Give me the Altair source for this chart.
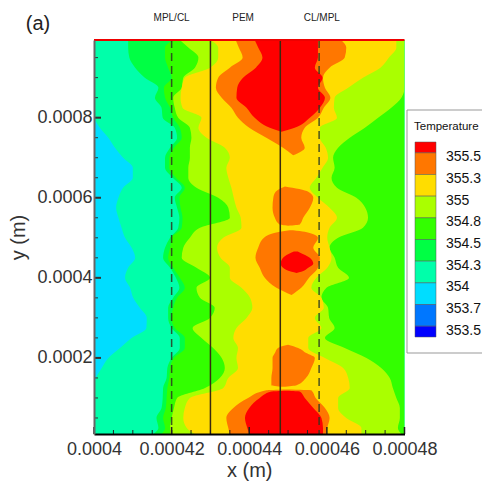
import altair as alt
import pandas as pd

UM = 1e-6
XDOM = [400 * UM, 480 * UM]
YDOM = [10 * UM, 994 * UM]

LEVEL_LABELS = ["355.5", "355.3", "355", "354.8", "354.5", "354.3", "354", "353.7", "353.5"]
LEVEL_VALUES = [355.5, 355.25, 355.0, 354.75, 354.5, 354.25, 354.0, 353.75, 353.5]
BAND_NAMES = ["red", "orange", "yellow", "yg", "lime", "green", "teal", "cyan", "blue", "navy"]
BAND_TOP = [355.625, 355.5, 355.25, 355.0, 354.75, 354.5, 354.25, 354.0, 353.75, 353.5]
BAND_BOT = [355.5, 355.25, 355.0, 354.75, 354.5, 354.25, 354.0, 353.75, 353.5, 353.375]
BAND_COLORS = ["#ff0000", "#ff7700", "#ffdd00", "#aaff00", "#33ff00", "#00ff44", "#00ffaa", "#00ddff", "#0077ff", "#0000ff"]

Y_ROWS = [994, 975, 950, 925, 900, 875, 850, 825, 800, 775, 750, 725, 700, 675, 650, 625, 600, 575, 550, 525,
          500, 475, 450, 425, 400, 375, 350, 325, 300, 275, 250, 225, 200, 175, 150, 125, 100, 75, 50, 25, 10]

CYAN_Y = [800, 775, 750, 725, 700, 675, 650, 625, 600, 575, 550, 525, 500, 475, 450, 425, 400, 375, 350, 325,
          300, 275, 250, 225, 200, 175, 150, 125]
CYAN_R = [400, 401.5, 403.7, 405.4, 407.5, 410, 410, 407.5, 406.3, 405.7, 406.3, 407.1, 408, 409.7, 410.6, 408.8,
          408, 409.3, 410.1, 411.8, 413.6, 413.5, 409.7, 406.7, 403.7, 402, 400.5, 400]
GREEN_L = [408.8, 408.8, 409.1, 410.6, 413.1, 416.6, 415.7, 417.4, 417.7, 420.8, 421.4, 419.6, 418.3, 418.3, 420.3,
           422.6, 420.8, 421.4, 422, 421.7, 419.6, 418.3, 417.8, 419.6, 421.1, 422, 420.4, 419.1, 419.1, 420,
           422.1, 422.1, 420, 418.9, 418.7, 417.8, 417.7, 417.4, 416.1, 416.6, 415.3]
LIME_L = [420.4, 418.3, 418.3, 419.1, 420, 418, 418.3, 419.6, 420.4, 422.1, 422.6, 420.6, 419.4, 419.4, 421.1,
          423.4, 422, 422.3, 422.8, 422.6, 420, 419.6, 419.1, 420.4, 422.1, 423.4, 421.4, 420.4, 420, 420.8,
          423.4, 423.4, 420.6, 419.6, 419.4, 418.9, 418.7, 418.5, 417.8, 418.3, 417.4]
YG_L = [422.1, 424.3, 426.9, 426, 423, 422.6, 420.4, 420.8, 421.7, 424.7, 425.1, 424.7, 424.7, 424.3, 424.3,
        426.4, 432, 434.6, 435, 427.3, 424.7, 423, 422.6, 426.4, 429.9, 426.4, 427.3, 431.1, 429.9, 425.4,
        427.7, 430.7, 432.9, 433.7, 432.4, 428.6, 421.4, 420.6, 420, 419.6, 419.6]
YG_R = [480, 480, 480, 480, 480, 480, 479.2, 476.6, 473.2, 469.8, 465.9, 462.9, 461.6, 462, 461.2,
        462.6, 467.6, 469.9, 470.6, 469.3, 462.9, 460.7, 462, 462.9, 465.7, 459.9, 458.6, 460.3, 460.6, 462,
        459.5, 464.6, 470.2, 474, 476.2, 477, 477.9, 478.8, 478.8, 478.3, 479.2]
YEL_L = [430, 432, 432, 429.9, 423.4, 422.6, 422.3, 422.8, 427.7, 426.9, 429, 433.7, 435, 434.1, 434.6,
         435.4, 436, 436.7, 437.8, 438, 433.3, 431.7, 432.6, 435, 435, 438, 440.2, 440.8, 439.3, 436.7,
         435.9, 437.1, 436.7, 437.1, 434.6, 433.3, 424.7, 423.4, 423, 423.9, 426]
YEL_R = [477.9, 477.9, 476, 473.8, 469.3, 465.5, 462, 461.8, 462.6, 458.2, 458.2, 459.7, 460.3, 458.9, 457.3,
         455.6, 457.7, 460.7, 462.6, 460.7, 460.1, 460.7, 461.2, 460.1, 457.3, 456, 458.6, 459.2, 456.9, 458.6,
         455.2, 455.2, 459.5, 464.2, 465.5, 465.9, 462.9, 462.9, 465, 468.9, 468.9]

ORA_TOP_Y = [994, 975, 950, 925, 900, 875, 850, 825, 800, 775, 750, 725, 706]
ORA_TOP_L = [436.5, 437.3, 438.3, 435, 432, 431.4, 432.9, 435.4, 437.1, 440, 444.4, 448.7, 451.3]
ORA_TOP_R = [463.7, 465, 464.6, 460.7, 459, 459.5, 460.9, 459.2, 457.7, 454.3, 453.4, 454.3, 451.3]
RED_TOP_Y = [994, 975, 950, 925, 900, 875, 850, 825, 800, 775, 765]
RED_TOP_L = [441.4, 442.3, 443.4, 441.7, 438.4, 436.9, 436.7, 439.3, 441.4, 445.3, 448.3]
RED_TOP_R = [457.7, 457.7, 457.7, 456.9, 458.9, 457.7, 459.5, 458.2, 455.6, 451.7, 448.3]

ORA_A_Y = [628, 615, 600, 575, 550, 533, 530]
ORA_A_L = [449.2, 446.8, 446.2, 446, 446.6, 447.8, 450]
ORA_A_R = [449.2, 455.2, 456.5, 455.6, 453.9, 453, 450]
ORA_B_Y = [519, 515, 500, 475, 450, 425, 400, 375, 357]
ORA_B_L = [450.4, 447.9, 443.8, 442.3, 441.6, 442.7, 444, 447, 450.9]
ORA_B_R = [451.3, 454.3, 457.7, 456.5, 458.2, 457.7, 455.4, 453.4, 450.9]
RED_C_Y = [466, 463, 450, 435, 425, 415, 412]
RED_C_L = [451.5, 450.9, 448.7, 448.1, 448.7, 450.9, 452.2]
RED_C_R = [452.5, 453, 455.6, 456.5, 455.2, 453.4, 452.2]
ORA_D_Y = [233, 225, 212, 200, 175, 150, 132, 128]
ORA_D_L = [450, 447.4, 446.6, 446, 446, 445.7, 445.7, 448.7]
ORA_D_R = [450, 452.6, 454.7, 456.9, 456, 454.6, 452.2, 448.7]
ORA_E_Y = [121, 119, 100, 75, 50, 25, 10]
ORA_E_L = [449.6, 444.4, 439.7, 435.9, 434.1, 434.6, 435]
ORA_E_R = [449.6, 456, 457.1, 459.5, 460.7, 460.1, 459.9]
RED_F_Y = [118, 116, 100, 75, 50, 25, 10]
RED_F_L = [449.6, 445.7, 442.7, 440, 438.9, 439.5, 440]
RED_F_R = [449.6, 453, 454.3, 456.5, 458.6, 459, 459]

SOLID_X = [430, 448]
DASH_X = [420, 458]
TOP_LABELS = ["MPL/CL", "PEM", "CL/MPL"]
TOP_LABEL_X = [420, 438.4, 458.7]
X_MAJOR = [400, 420, 440, 460, 480]
X_MINOR = [405, 410, 415, 425, 430, 435, 445, 450, 455, 465, 470, 475]
Y_MAJOR = [200, 400, 600, 800]
Y_MINOR = [50, 100, 150, 250, 300, 350, 450, 500, 550, 650, 700, 750, 850, 900, 950]

SANS = "Liberation Sans"
TXT = "#333333"

xs = alt.Scale(domain=XDOM, nice=False, zero=False)
ys = alt.Scale(domain=YDOM, nice=False, zero=False)
cs = alt.Scale(domain=BAND_NAMES, range=BAND_COLORS)
ts = alt.Scale(domain=[353.375, 355.625], range=[297, 102], nice=False, zero=False)


def band(name, y, left, right):
    df = pd.DataFrame({"y": [v * UM for v in y], "l": [v * UM for v in left],
                       "r": [v * UM for v in right], "b": name})
    return alt.Chart(df).mark_area(orient="horizontal", clip=True, interpolate="monotone").encode(
        x=alt.X("l:Q", scale=xs, axis=None),
        x2="r:Q",
        y=alt.Y("y:Q", scale=ys, axis=None),
        color=alt.Color("b:N", scale=cs, legend=None),
    )


frame = pd.DataFrame({"x": [XDOM[0]], "x2": [XDOM[1]], "y": [YDOM[0]], "y2": [YDOM[1]], "b": ["teal"]})
background = alt.Chart(frame).mark_rect().encode(
    x=alt.X("x:Q", scale=xs, title="x (m)", axis=alt.Axis(
        values=[v * UM for v in X_MAJOR], labelExpr="format(datum.value,'.5~f')", ticks=False, grid=False,
        labelFont=SANS, labelFontSize=18, labelColor=TXT, labelPadding=6, labelOverlap=False, labelFlush=False,
        titleFont=SANS, titleFontSize=20, titleFontWeight="normal", titleColor=TXT, titlePadding=2,
        domainColor="#000000", domainWidth=2, zindex=1)),
    x2="x2:Q",
    y=alt.Y("y:Q", scale=ys, title="y (m)", axis=alt.Axis(
        values=[v * UM for v in Y_MAJOR], labelExpr="format(datum.value,'.4~f')", ticks=False, grid=False,
        labelFont=SANS, labelFontSize=18, labelColor=TXT, labelPadding=2, labelOverlap=False, labelFlush=False,
        titleFont=SANS, titleFontSize=20, titleFontWeight="normal", titleColor=TXT, titlePadding=8,
        domainColor="#666666", domainWidth=2, zindex=1)),
    y2="y2:Q",
    color=alt.Color("b:N", scale=cs, legend=None),
)

fills = [
    band("cyan", CYAN_Y, [400] * len(CYAN_Y), CYAN_R),
    band("green", Y_ROWS, GREEN_L, [480] * len(Y_ROWS)),
    band("lime", Y_ROWS, LIME_L, [480] * len(Y_ROWS)),
    band("yg", Y_ROWS, YG_L, YG_R),
    band("yellow", Y_ROWS, YEL_L, YEL_R),
    band("orange", ORA_TOP_Y, ORA_TOP_L, ORA_TOP_R),
    band("red", RED_TOP_Y, RED_TOP_L, RED_TOP_R),
    band("orange", ORA_A_Y, ORA_A_L, ORA_A_R),
    band("orange", ORA_B_Y, ORA_B_L, ORA_B_R),
    band("red", RED_C_Y, RED_C_L, RED_C_R),
    band("orange", ORA_D_Y, ORA_D_L, ORA_D_R),
    band("orange", ORA_E_Y, ORA_E_L, ORA_E_R),
    band("red", RED_F_Y, RED_F_L, RED_F_R),
]


def vlines(values, **kw):
    df = pd.DataFrame({"x": [v * UM for v in values]})
    return alt.Chart(df).mark_rule(**kw).encode(x=alt.X("x:Q", scale=xs, axis=None))


def xticks(values, size, width):
    df = pd.DataFrame({"x": [v * UM for v in values]})
    return alt.Chart(df).mark_rule(color="#222222", strokeWidth=width).encode(
        x=alt.X("x:Q", scale=xs, axis=None), y=alt.value(394), y2=alt.value(394 - size))


def yticks(values, size, width):
    df = pd.DataFrame({"y": [v * UM for v in values]})
    return alt.Chart(df).mark_rule(color="#333333", strokeWidth=width).encode(
        y=alt.Y("y:Q", scale=ys, axis=None), x=alt.value(0), x2=alt.value(size))


top_edge = alt.Chart(pd.DataFrame({"y": [YDOM[1]]})).mark_rule(color="#ee0000", strokeWidth=2).encode(
    y=alt.Y("y:Q", scale=ys, axis=None))

top_text = alt.Chart(pd.DataFrame({"x": [v * UM for v in TOP_LABEL_X], "t": TOP_LABELS})).mark_text(
    font=SANS, fontSize=10, color="#222222").encode(
    x=alt.X("x:Q", scale=xs, axis=None), y=alt.value(-22), text="t:N")

panel_tag = alt.Chart(pd.DataFrame({"t": ["(a)"]})).mark_text(
    font=SANS, fontSize=20, color="#222222").encode(x=alt.value(-56), y=alt.value(-16), text="t:N")

legend_box = alt.Chart(pd.DataFrame({"t": ["Temperature"]})).mark_rect(
    fill="#ffffff", stroke="#999999", strokeWidth=1).encode(
    x=alt.value(313), x2=alt.value(410), y=alt.value(70), y2=alt.value(313))
legend_title = alt.Chart(pd.DataFrame({"t": ["Temperature"]})).mark_text(
    font=SANS, fontSize=11.5, color="#111111", align="left").encode(
    x=alt.value(320), y=alt.value(87), text="t:N")
legend_rects = alt.Chart(pd.DataFrame({"b": BAND_NAMES, "t": BAND_TOP, "u": BAND_BOT})).mark_rect(
    stroke="#555555", strokeWidth=0.5).encode(
    x=alt.value(321), x2=alt.value(342),
    y=alt.Y("t:Q", scale=ts, axis=None), y2="u:Q",
    color=alt.Color("b:N", scale=cs, legend=None))
legend_labels = alt.Chart(pd.DataFrame({"v": LEVEL_VALUES, "t": LEVEL_LABELS})).mark_text(
    font=SANS, fontSize=14, color="#111111", align="left", dy=4.5).encode(
    x=alt.value(352), y=alt.Y("v:Q", scale=ts, axis=None), text="t:N")

chart = alt.layer(
    background, *fills,
    vlines(SOLID_X, color="#3a2a10", strokeWidth=1.5),
    vlines(DASH_X, color="#2a3a20", strokeWidth=1.5, strokeDash=[8, 5], opacity=0.85),
    xticks(X_MAJOR, 7, 1.5), xticks(X_MINOR, 4, 1), yticks(Y_MAJOR, 7, 2), yticks(Y_MINOR, 4, 1),
    top_edge, top_text, panel_tag,
    legend_box, legend_title, legend_rects, legend_labels,
).resolve_scale(y="independent").resolve_axis(x="independent").properties(
    width=310.5, height=394,
    autosize=alt.AutoSizeParams(type="none"),
    padding={"left": 86, "top": 32, "right": 77.5, "bottom": 47},
    background="#ffffff",
).configure_view(stroke=None)

chart.save("out.html", embed_options={"renderer": "svg", "actions": False})
